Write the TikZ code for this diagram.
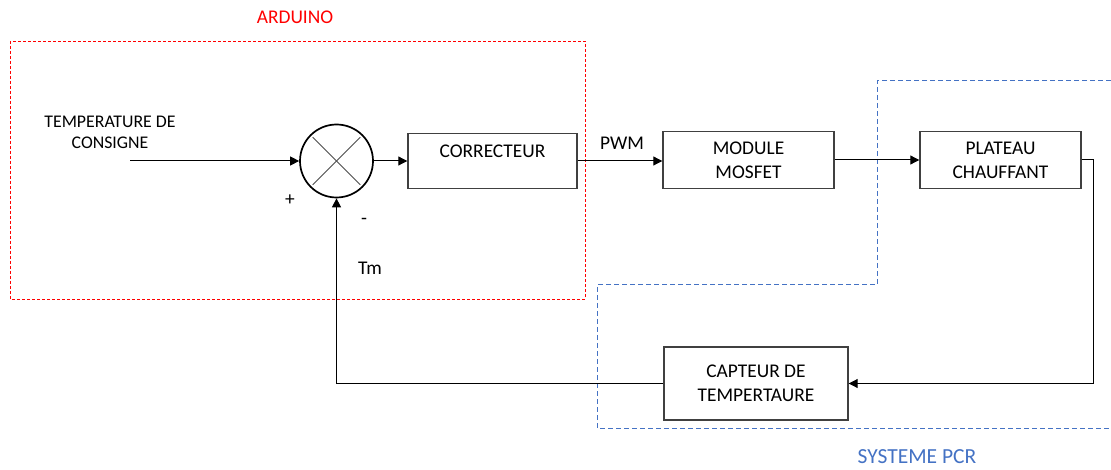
\documentclass[tikz,border=0pt]{standalone}
\usepackage{fontspec}
\setmainfont{Carlito}
\usetikzlibrary{arrows.meta,calc}
\definecolor{offblue}{HTML}{4472C4}
\begin{document}
\begin{tikzpicture}[x=1pt,y=-1pt,
  font=\fontsize{19.4}{24}\selectfont,
  blk/.style={draw=black!75, line width=1.4pt, inner sep=0pt, align=center},
  conn/.style={draw=black, line width=1pt, -{Triangle[length=9pt,width=9pt]}},
  lbl/.style={inner sep=0pt}]
\useasboundingbox (0,0) rectangle (1111,470);

% groups
\draw[red, line width=0.9pt, dash pattern=on 3pt off 2pt] (10,41) rectangle (585,299);
\node[lbl, text=red] (ard) at (295,17) {ARDUINO};
\draw[offblue, line width=1pt, dash pattern=on 5pt off 3pt]
  (1111,81) -- (877,81) -- (877,285) -- (597,285) -- (597,428) -- (1111,428);
\node[lbl, text=offblue, font=\fontsize{21.5}{24}\selectfont] (pcr) at (917,457) {SYSTEME PCR};

% blocks
\node[blk, minimum width=169pt, minimum height=55pt] (corr) at (492.5,161) {CORRECTEUR\\[-12pt] \strut};
\node[blk, minimum width=171pt, minimum height=57pt] (mos) at (748.5,160) {MODULE\\MOSFET};
\node[blk, minimum width=161pt, minimum height=57pt] (plat) at (1000.5,160) {PLATEAU\\CHAUFFANT};
\node[blk, minimum width=184pt, minimum height=73pt] (capt) at (756,383.5) {CAPTEUR DE\\TEMPERTAURE};
\node[draw=black, line width=1.7pt, circle, minimum size=73pt, inner sep=0pt] (sum) at (336.5,161) {};
\draw[black!70, line width=0.9pt] ($(sum.center)!0.9!(sum.north west)$) -- ($(sum.center)!0.9!(sum.south east)$);
\draw[black!70, line width=0.9pt] ($(sum.center)!0.9!(sum.north east)$) -- ($(sum.center)!0.9!(sum.south west)$);

% texts
\node[lbl, align=center, font=\fontsize{17.8}{21}\selectfont] (cons) at (110,132) {TEMPERATURE DE\\CONSIGNE};
\node[lbl] (pwm) at (622,143) {PWM};
\node[lbl] (plus) at (290,200) {+};
\node[lbl] (minus) at (364,221) {-};
\node[lbl] (tm) at (370,268) {Tm};

% connectors
\coordinate (in) at (130,161);
\coordinate (rt) at (1093,383.5);
\draw[conn] (in) -- (sum.west);
\draw[conn] (sum.east) -- (corr.west);
\draw[conn] (corr.east) -- (mos.west |- corr.east);
\draw[conn] (mos.east) -- (plat.west);
\draw[conn] (plat.east) -| (rt) -- (capt.east);
\draw[conn] (capt.west) -| (sum.south);
\end{tikzpicture}
\end{document}
